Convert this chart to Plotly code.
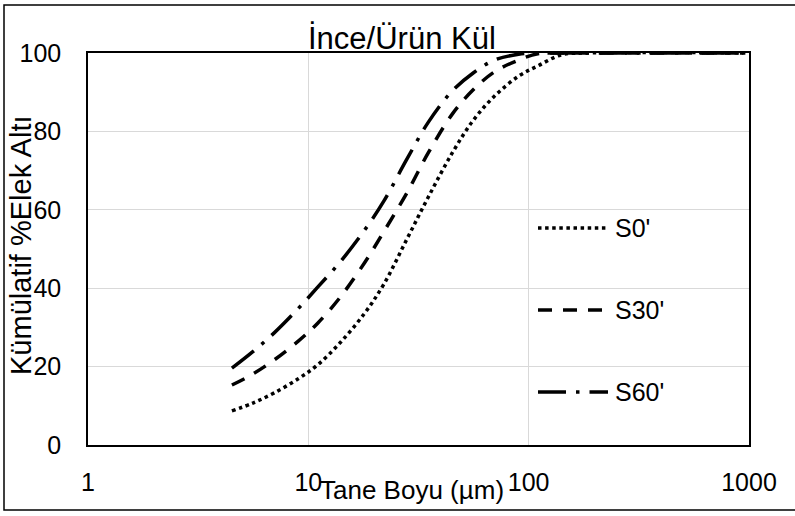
import plotly.graph_objects as go

# Particle size (µm) and cumulative % passing for each grinding time
size_um = [4.5, 5.6, 7, 9, 11, 14, 18, 22, 28, 35, 45, 56, 70, 90, 110, 140, 180, 1000]
s0 = [8.7, 10.7, 13.3, 16.9, 20.4, 26.2, 33.6, 41.0, 52.5, 63.2, 74.5, 82.8, 89.0, 94.1, 96.7, 99.5, 100, 100]
s30 = [15.3, 18.1, 21.7, 26.5, 31.0, 37.8, 46.5, 54.4, 64.3, 74.5, 84.4, 90.6, 95.2, 98.2, 99.8, 100, 100, 100]
s60 = [19.6, 23.8, 28.6, 34.8, 40.2, 46.8, 54.8, 62.2, 72.9, 82.3, 90.3, 94.9, 98.2, 99.7, 100, 100, 100, 100]

series_names = ["S0'", "S30'", "S60'"]
series_values = [s0, s30, s60]

x_ticks = [1, 10, 100, 1000]
y_ticks = [0, 20, 40, 60, 80, 100]

title_text = "İnce/Ürün Kül"
x_title = "Tane Boyu (µm)"
y_title = "Kümülatif %Elek Altı"

FONT = "Liberation Sans, Arial, sans-serif"
LINE_W = 3.5
dashes = {
    "S0'": "3.5px,3.6px",
    "S30'": "14px,11px",
    "S60'": "28px,10px,3.5px,10px",
}

fig = go.Figure()
for name, vals in zip(series_names, series_values):
    fig.add_trace(go.Scatter(
        x=size_um, y=vals, name=name, mode="lines",
        line=dict(color="black", width=LINE_W, dash=dashes[name],
                  shape="spline", smoothing=1.0),
        showlegend=False,
    ))

# Plot-area pixel frame, used to place the hand-built legend and labels
L, R, T, B = 88, 749, 53, 445
W, H = 795, 516
px = lambda x: (x - L) / (R - L)
py = lambda y: (B - y) / (B - T)

shapes = [
    # outer chart border
    dict(type="rect", xref="paper", yref="paper",
         x0=px(4), x1=px(805), y0=py(510), y1=py(5),
         line=dict(color="black", width=1.5), layer="above"),
]
annotations = []

legend_rows = [228, 310, 392]
for name, yrow in zip(series_names, legend_rows):
    shapes.append(dict(type="line", xref="paper", yref="paper",
                       x0=px(538), x1=px(608), y0=py(yrow), y1=py(yrow),
                       line=dict(color="black", width=LINE_W, dash=dashes[name])))
    annotations.append(dict(text=name, xref="paper", yref="paper",
                            x=px(613), y=py(yrow), xanchor="left", yanchor="middle",
                            showarrow=False, font=dict(family=FONT, size=25, color="black")))

annotations += [
    dict(text=title_text, xref="paper", yref="paper", x=px(402), y=1,
         xanchor="center", yanchor="bottom", yshift=-5, showarrow=False,
         font=dict(family=FONT, size=31, color="black")),
    dict(text=x_title, xref="paper", yref="paper", x=px(412), y=py(490),
         xanchor="center", yanchor="middle", showarrow=False,
         font=dict(family=FONT, size=26, color="black")),
    dict(text=y_title, xref="paper", yref="paper", x=px(21), y=py(245),
         xanchor="center", yanchor="middle", textangle=-90, showarrow=False,
         font=dict(family=FONT, size=29, color="black")),
]

fig.update_layout(
    width=W, height=H,
    margin=dict(l=L, r=W - R, t=T, b=H - B, pad=0),
    paper_bgcolor="white", plot_bgcolor="white",
    font=dict(family=FONT, size=25, color="black"),
    shapes=shapes, annotations=annotations,
    xaxis=dict(type="log", range=[0, 3], tickvals=x_ticks,
               ticktext=[str(v) for v in x_ticks],
               showgrid=True, gridcolor="#d9d9d9", gridwidth=1,
               showline=True, linecolor="black", linewidth=1.5, mirror=True,
               ticks="", ticklabelstandoff=14, zeroline=False),
    yaxis=dict(range=[0, 100], tickvals=y_ticks,
               showgrid=True, gridcolor="#d9d9d9", gridwidth=1,
               showline=True, linecolor="black", linewidth=1.5, mirror=True,
               ticks="", ticklabelstandoff=20, zeroline=False),
)

fig.write_html("out.html")
